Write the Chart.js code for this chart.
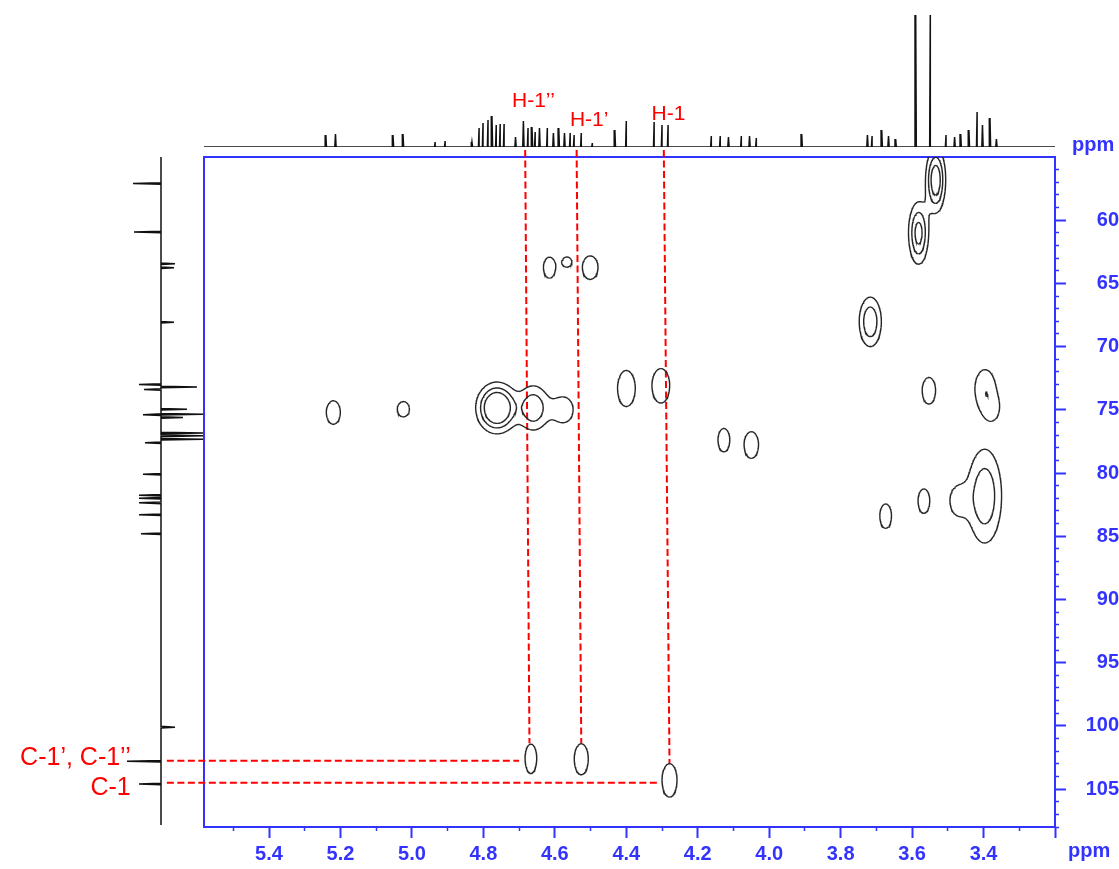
<!DOCTYPE html>
<html>
<head>
<meta charset="utf-8">
<script src="https://cdn.jsdelivr.net/npm/chart.js@4.4.1/dist/chart.umd.min.js"></script>
<style>
    body { margin: 0; background: #fff; }
    #wrap { position: relative; width: 1119px; height: 869px; }
    canvas { position: absolute; left: 0; top: 0; }
</style>
</head>
<body>
<div id="wrap">
    <canvas id="proton" width="1119" height="157"></canvas>
    <canvas id="carbon" width="204" height="869"></canvas>
    <canvas id="hsqc" width="1119" height="869"></canvas>
</div>
<script>
// Axlarnas omfång (ppm)
const H_MIN = 3.2, H_MAX = 5.582;
const C_MIN = 55, C_MAX = 108;

// 1H-spektrum ovanför (skift, höjd)
const protonShift = [5.241, 5.214, 5.053, 5.025, 4.935, 4.907, 4.832, 4.812, 4.801, 4.787, 4.776, 4.764, 4.753, 4.742,
    4.710, 4.688, 4.675, 4.664, 4.655, 4.643, 4.621, 4.604, 4.589, 4.573, 4.557, 4.546, 4.526, 4.495, 4.432, 4.400,
    4.322, 4.300, 4.283, 4.162, 4.137, 4.114, 4.078, 4.055, 4.036, 3.909, 3.725, 3.712, 3.685, 3.666, 3.646,
    3.590, 3.549, 3.505, 3.481, 3.464, 3.441, 3.418, 3.403, 3.382, 3.364];
const protonHeight = [12, 13, 12, 13, 5, 6, 5, 19, 24, 27, 31, 22, 23, 23,
    10, 26, 19, 20, 15, 19, 19, 14, 19, 14, 14, 12, 14, 4, 17, 26,
    25, 22, 22, 11, 11, 10, 11, 11, 9, 13, 12, 11, 17, 11, 8,
    140, 140, 12, 10, 13, 17, 35, 22, 29, 8];

// 13C-spektrum till vänster (skift, intensitet; negativ = åt vänster)
const carbonShift = [57.09, 60.93, 63.44, 63.76, 68.07, 73.0, 73.2, 73.4, 74.95, 75.35, 75.38, 75.61,
    76.83, 77.06, 77.33, 77.6, 80.1, 81.75, 82.0, 82.36, 83.3, 84.8, 100.1, 102.8, 104.6];
const carbonHeight = [-28, -27, 14, 13, 13, -22, 36, -17, 26, 42, -18, 22,
    42, 42, 42, -16, -18, -22, -22, -22, -22, -20, 14, -34, -22];

// Krysstoppar: 1H, 13C, bredd (sigma) i ppm, amplitud
const peakH = [5.220, 5.024, 4.762, 4.660, 4.576, 4.615, 4.566, 4.501, 4.400, 4.303, 4.127, 4.050,
    3.717, 3.553, 3.396, 3.373, 3.567, 3.674, 3.397, 3.473, 3.534, 3.582, 4.667, 4.526, 4.279];
const peakC = [75.21, 74.95, 74.85, 74.85, 75.0, 63.75, 63.31, 63.75, 73.31, 73.1, 77.4, 77.78,
    68.04, 73.49, 73.3, 75.0, 82.22, 83.41, 81.83, 82.2, 56.83, 61.03, 102.6, 102.64, 104.31];
const peakWidthH = [0.0202, 0.0174, 0.0322, 0.0280, 0.0280, 0.0174, 0.0126, 0.0225, 0.0252, 0.0252, 0.0168, 0.0208,
    0.0210, 0.0193, 0.0252, 0.0224, 0.0168, 0.0168, 0.0325, 0.0224, 0.0168, 0.0177, 0.0168, 0.0202, 0.0216];
const peakWidthC = [0.96, 0.63, 1.11, 1.19, 1.03, 0.86, 0.40, 0.96, 1.47, 1.41, 0.96, 1.09,
    1.33, 1.09, 1.35, 0.95, 1.0, 1.0, 2.54, 1.11, 1.55, 1.55, 1.2, 1.27, 1.37];
const peakAmp = [1.6, 1.6, 5.5, 2.9, 1.6, 1.6, 1.6, 1.6, 1.6, 1.6, 1.6, 1.6,
    2.95, 1.6, 1.82, 1.0, 1.6, 1.6, 2.9, 1.5, 4.0, 3.5, 1.6, 1.6, 1.6];
const contourLevels = [1, 2, 3];

// Skalstreck
const xMajorTicks = [5.4, 5.2, 5.0, 4.8, 4.6, 4.4, 4.2, 4.0, 3.8, 3.6, 3.4, 3.2];
const xMinorTicks = [5.5, 5.3, 5.1, 4.9, 4.7, 4.5, 4.3, 4.1, 3.9, 3.7, 3.5, 3.3];
const yMajorTicks = [60, 65, 70, 75, 80, 85, 90, 95, 100, 105];
const yMinorTicks = [56, 57, 58, 59, 61, 62, 63, 64, 66, 67, 68, 69, 71, 72, 73, 74, 76, 77, 78, 79,
    81, 82, 83, 84, 86, 87, 88, 89, 91, 92, 93, 94, 96, 97, 98, 99, 101, 102, 103, 104, 106, 107, 108];

// Tilldelningar (H-1 etc.)
const protonLabels = ['H-1’’', 'H-1’', 'H-1'];
const guideTopH = [4.683, 4.539, 4.295];
const guideBottomH = [4.671, 4.526, 4.279];
const guideBottomC = [101.38, 101.38, 102.99];
const carbonLabels = ['C-1’, C-1’’', 'C-1'];
const carbonGuideC = [102.76, 104.5];
const carbonGuideEndH = [4.70, 4.314];

const blue = '#3333ff';
const FONT = '"Liberation Sans", Arial, sans-serif';
const GUIDE_TOP_C = 54.44, GUIDE_START_H = 5.686;

Chart.defaults.animation = false;
Chart.defaults.events = [];
Chart.defaults.plugins.legend.display = false;
Chart.defaults.plugins.tooltip.enabled = false;

function sticks (shift, height, halfWidth, from, to) {
    const pts = shift.map((s, i) => [s, height[i]]).sort((a, b) => a[0] - b[0]);
    const out = [[from, 0]];
    pts.forEach(([s, h]) => out.push([s - halfWidth, 0], [s, h], [s + halfWidth, 0]));
    out.push([to, 0]);
    return out;
}

const lineStyle = { showLine: true, pointRadius: 0, borderColor: '#111', borderWidth: 1.5, tension: 0 };

// 1H-projektion
new Chart(document.getElementById('proton'), {
    type: 'scatter',
    data: {
        datasets: [Object.assign({
            data: sticks(protonShift, protonHeight, 0.0018, H_MIN, H_MAX).map(p => ({ x: p[0], y: p[1] }))
        }, lineStyle)]
    },
    options: {
        responsive: false,
        layout: { padding: { left: 204, right: 64, top: 15, bottom: 10 } },
        scales: {
            x: { type: 'linear', display: false, reverse: true, min: H_MIN, max: H_MAX },
            y: { type: 'linear', display: false, min: 0, max: 132 }
        }
    }
});

// 13C-projektion
new Chart(document.getElementById('carbon'), {
    type: 'scatter',
    data: {
        datasets: [Object.assign({
            data: sticks(carbonShift, carbonHeight, 0.06, C_MIN, 107.85).map(p => ({ x: p[1], y: p[0] }))
        }, lineStyle)]
    },
    options: {
        responsive: false,
        layout: { padding: { left: 0, right: 0, top: 157, bottom: 42 } },
        scales: {
            x: { type: 'linear', display: false, min: -161, max: 43 },
            y: { type: 'linear', display: false, reverse: true, min: C_MIN, max: C_MAX }
        }
    }
});

// Konturer: summa av gaussiska toppar + marching squares
const NX = 570, NY = 450;
const dx = (H_MAX - H_MIN) / (NX - 1), dy = (C_MAX - C_MIN) / (NY - 1);
const field = new Float32Array(NX * NY);

peakH.forEach((h0, k) => {
    const c0 = peakC[k], sh = peakWidthH[k], sc = peakWidthC[k], a = peakAmp[k];
    const i0 = Math.max(0, Math.floor((h0 - 4 * sh - H_MIN) / dx));
    const i1 = Math.min(NX - 1, Math.ceil((h0 + 4 * sh - H_MIN) / dx));
    const j0 = Math.max(0, Math.floor((c0 - 4 * sc - C_MIN) / dy));
    const j1 = Math.min(NY - 1, Math.ceil((c0 + 4 * sc - C_MIN) / dy));
    for (let j = j0; j <= j1; j++) {
        const v = (C_MIN + j * dy - c0) / sc;
        for (let i = i0; i <= i1; i++) {
            const u = (H_MIN + i * dx - h0) / sh;
            field[j * NX + i] += a * Math.exp(-0.5 * (u * u + v * v));
        }
    }
});

function contour (level) {
    const pts = [];
    const X = i => H_MIN + i * dx, Y = j => C_MIN + j * dy;
    for (let j = 0; j < NY - 1; j++) {
        for (let i = 0; i < NX - 1; i++) {
            const v0 = field[j * NX + i], v1 = field[j * NX + i + 1];
            const v2 = field[(j + 1) * NX + i + 1], v3 = field[(j + 1) * NX + i];
            const b0 = v0 >= level, b1 = v1 >= level, b2 = v2 >= level, b3 = v3 >= level;
            if (b0 === b1 && b1 === b2 && b2 === b3) continue;
            const cross = [];
            if (b0 !== b1) cross.push({ x: X(i + (level - v0) / (v1 - v0)), y: Y(j) });
            if (b1 !== b2) cross.push({ x: X(i + 1), y: Y(j + (level - v1) / (v2 - v1)) });
            if (b2 !== b3) cross.push({ x: X(i + 1 - (level - v2) / (v3 - v2)), y: Y(j + 1) });
            if (b3 !== b0) cross.push({ x: X(i), y: Y(j + 1 - (level - v3) / (v0 - v3)) });
            for (let n = 0; n + 1 < cross.length; n += 2) {
                pts.push(cross[n], cross[n + 1], { x: null, y: null });
            }
        }
    }
    return pts;
}

const contourSets = contourLevels.map(level => ({
    data: contour(level),
    showLine: true,
    spanGaps: false,
    pointRadius: 0,
    borderColor: '#262626',
    borderWidth: 1.4
}));

const redDash = { showLine: true, pointRadius: 0, borderColor: '#ff0000', borderWidth: 2, borderDash: [7, 3.5], clip: false };

const guideSets = guideTopH.map((h, i) => Object.assign({
    data: [{ x: h, y: GUIDE_TOP_C }, { x: guideBottomH[i], y: guideBottomC[i] }]
}, redDash)).concat(carbonGuideC.map((c, i) => Object.assign({
    data: [{ x: GUIDE_START_H, y: c }, { x: carbonGuideEndH[i], y: c }]
}, redDash)));

const tickFont = { family: FONT, size: 20, weight: 'bold' };

const framePlugin = {
    id: 'frame',
    beforeDatasetsDraw (chart) {
        const { ctx, chartArea: a } = chart;
        ctx.save();
        ctx.strokeStyle = blue;
        ctx.lineWidth = 2;
        ctx.strokeRect(a.left, a.top, a.right - a.left, a.bottom - a.top);
        ctx.restore();
    },
    afterDraw (chart) {
        const { ctx, chartArea: a, scales: { x, y } } = chart;
        ctx.save();
        ctx.fillStyle = blue;
        ctx.font = 'bold 20px ' + FONT;
        ctx.textBaseline = 'alphabetic';
        ctx.textAlign = 'left';
        ctx.fillText('ppm', a.right + 17, a.top - 6);
        ctx.fillText('ppm', a.right + 13, a.bottom + 30);

        ctx.fillStyle = '#ff0000';
        ctx.font = '21px ' + FONT;
        ctx.textAlign = 'center';
        const labelH = [4.660, 4.504, 4.282], labelC = [51.03, 52.58, 52.10];
        protonLabels.forEach((t, i) => ctx.fillText(t, x.getPixelForValue(labelH[i]), y.getPixelForValue(labelC[i])));

        ctx.font = '25px ' + FONT;
        ctx.textAlign = 'right';
        const cLabelC = [103.1, 105.48];
        carbonLabels.forEach((t, i) => ctx.fillText(t, x.getPixelForValue(5.787), y.getPixelForValue(cLabelC[i])));
        ctx.restore();
    }
};

function tickAxis (extra, ticks, length, width) {
    return Object.assign({
        type: 'linear',
        afterBuildTicks: s => { s.ticks = ticks.map(v => ({ value: v })); },
        grid: { drawOnChartArea: false, tickLength: length, tickColor: blue, tickWidth: width },
        border: { display: false }
    }, extra);
}

new Chart(document.getElementById('hsqc'), {
    type: 'scatter',
    data: { datasets: contourSets.concat(guideSets) },
    options: {
        responsive: false,
        layout: { padding: { left: 204, top: 157, right: 0, bottom: 0 } },
        scales: {
            x: tickAxis({
                position: 'bottom', reverse: true, min: H_MIN, max: H_MAX, weight: 1,
                afterFit: s => { s.height = 42; },
                ticks: {
                    autoSkip: false, maxRotation: 0, minRotation: 0, color: blue, font: tickFont, padding: 4,
                    callback: v => Math.abs(v - 3.2) < 1e-6 ? '' : v.toFixed(1)
                }
            }, xMajorTicks, 11, 2),
            x2: tickAxis({
                position: 'bottom', reverse: true, min: H_MIN, max: H_MAX, weight: 0,
                afterFit: s => { s.height = 0; },
                ticks: { autoSkip: false, maxRotation: 0, callback: () => '' }
            }, xMinorTicks, 4, 1.5),
            y: tickAxis({
                position: 'right', reverse: true, min: C_MIN, max: C_MAX, weight: 1,
                afterFit: s => { s.width = 64; },
                ticks: {
                    autoSkip: false, color: blue, font: tickFont, padding: 5, crossAlign: 'far',
                    callback: v => String(v)
                }
            }, yMajorTicks, 11, 2),
            y2: tickAxis({
                position: 'right', reverse: true, min: C_MIN, max: C_MAX, weight: 0,
                afterFit: s => { s.width = 0; },
                ticks: { autoSkip: false, callback: () => '' }
            }, yMinorTicks, 4, 1.5)
        }
    },
    plugins: [framePlugin]
});
</script>
</body>
</html>
